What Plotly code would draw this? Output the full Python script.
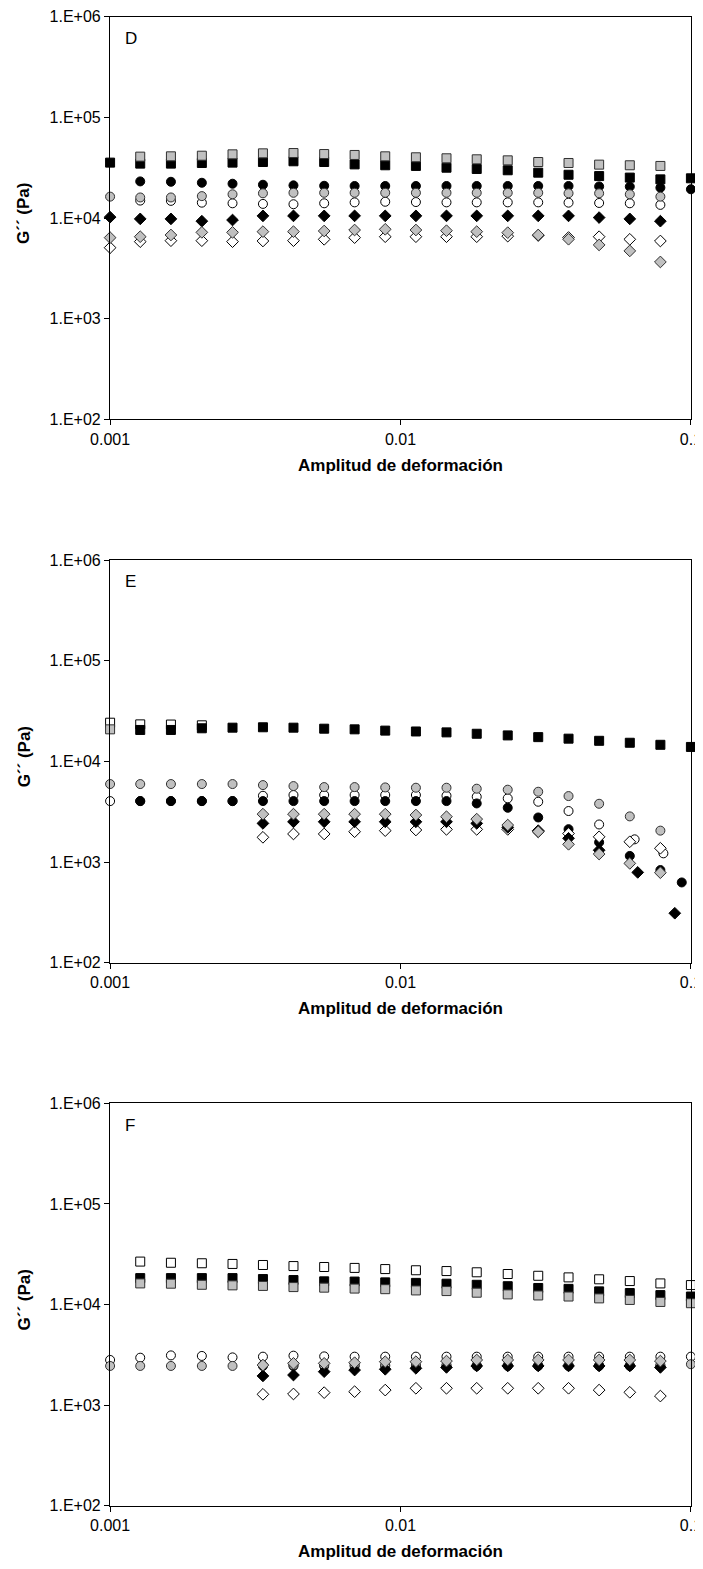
import plotly.graph_objects as go

# ---------------- data ----------------
strain = [0.001, 0.00127, 0.00162, 0.00207, 0.00264, 0.00336, 0.00428, 0.00546, 0.00695, 0.00886,
          0.0113, 0.0144, 0.0183, 0.0234, 0.0298, 0.0379, 0.0483, 0.0616, 0.0785, 0.1]
N = None

# Panel D
d_sq_black = [35500, 34700, 34700, 35200, 35500, 36000, 36600, 36000, 34100, 33400,
              32900, 31600, 30700, 29800, 28200, 26900, 26100, 25200, 24200, 24800]
d_sq_gray = [N, 40700, 41000, 41600, 42900, 43900, 44200, 43200, 42300, 41000,
             40100, 39200, 38300, 37400, 36000, 35200, 33900, 33400, 32900, N]
d_ci_white = [N, 14900, 14800, 14200, 14000, 13800, 13700, 14000, 14300, 14500,
              14400, 14300, 14300, 14300, 14300, 14200, 14100, 14000, 13500, N]
d_ci_black = [N, 23100, 22900, 22400, 21900, 21400, 21100, 20900, 20800, 20800,
              20800, 20800, 20800, 20800, 20800, 20800, 20600, 20500, 20000, 19300]
d_ci_gray = [16300, 16000, 16000, 16500, 17200, 17600, 17800, 17800, 17800, 17800,
             17800, 17800, 17800, 17800, 17800, 17600, 17600, 17200, 16300, N]
d_di_white = [5070, 5820, 5950, 5950, 5820, 5910, 5950, 6140, 6380, 6520,
              6520, 6520, 6520, 6600, 6700, 6400, 6520, 6140, 5910, N]
d_di_black = [10200, 9800, 9800, 9300, 9550, 10500, 10500, 10500, 10500, 10500,
              10500, 10500, 10500, 10500, 10500, 10500, 10100, 9800, 9300, N]
d_di_gray = [6380, 6520, 6780, 7200, 7200, 7320, 7320, 7430, 7600, 7720,
             7600, 7480, 7320, 7150, 6780, 6150, 5400, 4710, 3660, N]

# Panel E
e_sq_white = [24200, 23300, 23200, 22800, N, N, N, N, N, N, N, N, N, N, N, N, N, N, N, N]
e_sq_black = [N, 20500, 20500, 21300, 21600, 21800, 21600, 21100, 20800, 20200,
              19800, 19400, 18800, 18100, 17400, 16800, 16000, 15300, 14600, 13900]
e_sq_gray = [20800, N, N, N, N, N, N, N, N, N, N, N, N, N, N, N, N, N, N, N]
e_ci_white_x = [0.001, 0.00127, 0.00162, 0.00207, 0.00264, 0.00336, 0.00428, 0.00546, 0.00695, 0.00886,
                0.0113, 0.0144, 0.0183, 0.0234, 0.0298, 0.0379, 0.0483, 0.064, 0.0804]
e_ci_white = [4030, 4030, 4030, 4030, 4030, 4550, 4630, 4630, 4630, 4630,
              4630, 4550, 4450, 4290, 3970, 3210, 2360, 1680, 1220]
e_ci_black_x = [0.00127, 0.00162, 0.00207, 0.00264, 0.00336, 0.00428, 0.00546, 0.00695, 0.00886,
                0.0113, 0.0144, 0.0183, 0.0234, 0.0298, 0.0379, 0.0483, 0.0616, 0.0785, 0.093]
e_ci_black = [4030, 4030, 4030, 4030, 4030, 4030, 4030, 4030, 4030,
              4030, 4030, 3820, 3460, 2770, 2120, 1570, 1150, 832, 627]
e_ci_gray = [5950, 5950, 5950, 5950, 5950, 5810, 5680, 5550, 5550, 5510,
             5470, 5470, 5350, 5230, 4990, 4520, 3790, 2840, 2050, N]
e_di_white = [N, N, N, N, N, 1760, 1900, 1900, 2000, 2050,
              2080, 2110, 2110, 2110, 2000, 1920, 1780, 1590, 1370, N]
e_di_black_x = [0.00336, 0.00428, 0.00546, 0.00695, 0.00886, 0.0113, 0.0144, 0.0183, 0.0234,
                0.0298, 0.0379, 0.0483, 0.0656, 0.088]
e_di_black = [2420, 2510, 2510, 2510, 2510, 2510, 2510, 2420, 2210,
              2050, 1720, 1310, 789, 310]
e_di_gray = [N, N, N, N, N, 2990, 2990, 2990, 2990, 2990,
             2930, 2820, 2670, 2330, 2000, 1500, 1200, 969, 783, N]

# Panel F
f_sq_white = [N, 26700, 26000, 25700, 25300, 24700, 24100, 23600, 23100, 22500,
              21900, 21500, 20900, 20100, 19300, 18600, 17800, 17100, 16200, 15600]
f_sq_black = [N, 18300, 18300, 18300, 18300, 17900, 17500, 17000, 16900, 16600,
              16400, 16100, 15700, 15200, 14600, 14300, 13500, 13000, 12400, 12000]
f_sq_gray = [N, 16200, 16100, 15700, 15500, 15300, 14900, 14700, 14400, 14200,
             13800, 13600, 13100, 12600, 12300, 12000, 11500, 11100, 10600, 10300]
f_ci_white = [2810, 2960, 3120, 3080, 2980, 3030, 3100, 3050, 3030, 3030,
              3030, 3030, 3030, 3030, 3030, 3030, 3030, 3030, 3030, 3030]
f_ci_black = [N, N, N, N, N, 2450, 2450, 2450, 2450, 2450,
              2450, 2450, 2450, 2450, 2450, 2450, 2450, 2450, 2450, N]
f_ci_gray = [2450, 2450, 2450, 2450, 2450, 2500, 2500, 2500, 2500, 2500,
             2500, 2500, 2500, 2500, 2500, 2500, 2500, 2500, 2500, 2550]
f_di_white = [N, N, N, N, N, 1280, 1290, 1330, 1360, 1410,
              1470, 1470, 1470, 1470, 1470, 1470, 1410, 1340, 1230, N]
f_di_black = [N, N, N, N, N, 1950, 1990, 2150, 2230, 2270,
              2320, 2370, 2450, 2450, 2450, 2450, 2450, 2450, 2370, N]
f_di_gray = [N, N, N, N, N, 2500, 2600, 2600, 2640, 2700,
             2700, 2740, 2810, 2810, 2810, 2810, 2810, 2810, 2740, N]

panel_labels = ["D", "E", "F"]
y_tickvals = [1e2, 1e3, 1e4, 1e5, 1e6]
y_ticktext = ["1.E+02", "1.E+03", "1.E+04", "1.E+05", "1.E+06"]
x_tickvals = [0.001, 0.01, 0.1]
x_ticktext = ["0.001", "0.01", "0.1"]

# ---------------- styling ----------------
OFF = 8  # page body margin
W, H = 703 - OFF, 1569 - 2 * OFF
FONT = "Liberation Sans, Arial, sans-serif"
GRAY = "#C0C0C0"
styles = {
    "white": dict(color="white", line=dict(color="black", width=1)),
    "black": dict(color="black", line=dict(color="black", width=1)),
    "gray": dict(color=GRAY, line=dict(color="#303030", width=1)),
}
sizes = {"square": 9, "circle": 9, "diamond": 9}

fig = go.Figure()

def add(x, y, sym, col, idx):
    ax = "" if idx == 1 else str(idx)
    m = dict(symbol=sym, size=sizes[sym], **styles[col])
    fig.add_trace(go.Scatter(x=x, y=y, mode="markers", marker=m, showlegend=False,
                             xaxis="x" + ax, yaxis="y" + ax, cliponaxis=False))

# D
add(strain, d_sq_black, "square", "black", 1)
add(strain, d_sq_gray, "square", "gray", 1)
add(strain, d_ci_white, "circle", "white", 1)
add(strain, d_ci_black, "circle", "black", 1)
add(strain, d_ci_gray, "circle", "gray", 1)
add(strain, d_di_white, "diamond", "white", 1)
add(strain, d_di_black, "diamond", "black", 1)
add(strain, d_di_gray, "diamond", "gray", 1)
# E
add(strain, e_sq_white, "square", "white", 2)
add(strain, e_sq_gray, "square", "gray", 2)
add(strain, e_sq_black, "square", "black", 2)
add(e_ci_white_x, e_ci_white, "circle", "white", 2)
add(e_ci_black_x, e_ci_black, "circle", "black", 2)
add(strain, e_ci_gray, "circle", "gray", 2)
add(strain, e_di_white, "diamond", "white", 2)
add(e_di_black_x, e_di_black, "diamond", "black", 2)
add(strain, e_di_gray, "diamond", "gray", 2)
# F
add(strain, f_sq_white, "square", "white", 3)
add(strain, f_sq_black, "square", "black", 3)
add(strain, f_sq_gray, "square", "gray", 3)
add(strain, f_ci_white, "circle", "white", 3)
add(strain, f_ci_black, "circle", "black", 3)
add(strain, f_ci_gray, "circle", "gray", 3)
add(strain, f_di_white, "diamond", "white", 3)
add(strain, f_di_black, "diamond", "black", 3)
add(strain, f_di_gray, "diamond", "gray", 3)

# target screen positions (reference pixels), converted to figure pixels
x0, x1 = 110 - OFF, 691 - OFF
panels_px = [(16.7 - OFF, 419.3 - OFF), (560.0 - OFF, 962.7 - OFF), (1103.3 - OFF, 1505.7 - OFF)]

layout = dict(width=W, height=H, margin=dict(l=0, r=0, t=0, b=0, autoexpand=False),
              paper_bgcolor="white", plot_bgcolor="white",
              font=dict(family=FONT, size=16, color="black"))
annotations = []
for i, (top, bot) in enumerate(panels_px):
    idx = "" if i == 0 else str(i + 1)
    ydom = [1 - bot / H, 1 - top / H]
    xdom = [x0 / W, x1 / W]
    layout["xaxis" + idx] = dict(type="log", range=[-3.0003, -0.9997], domain=xdom, anchor="y" + idx,
                                 tickvals=x_tickvals, ticktext=x_ticktext, ticks="outside",
                                 ticklen=5, tickcolor="black", showgrid=False, zeroline=False,
                                 showline=True, linecolor="black", linewidth=1.2, mirror=True,
                                 tickfont=dict(size=16), automargin=False,
                                 ticklabeloverflow="allow")
    layout["yaxis" + idx] = dict(type="log", range=[2, 6], domain=ydom, anchor="x" + idx,
                                 tickvals=y_tickvals, ticktext=y_ticktext, ticks="outside",
                                 ticklen=5, tickcolor="black", showgrid=False, zeroline=False,
                                 showline=True, linecolor="black", linewidth=1.2, mirror=True,
                                 tickfont=dict(size=16), automargin=False,
                                 ticklabeloverflow="allow")
    annotations.append(dict(text="<b>Amplitud de deformación</b>", xref="paper", yref="paper",
                            x=(x0 + x1) / 2 / W, y=1 - (bot + 46) / H, showarrow=False,
                            font=dict(size=17), xanchor="center", yanchor="middle"))
    annotations.append(dict(text="<b>G´´ (Pa)</b>", xref="paper", yref="paper",
                            x=(24 - OFF) / W, y=1 - ((top + bot) / 2 - 4) / H, showarrow=False,
                            textangle=-90, font=dict(size=17), xanchor="center", yanchor="middle"))
    annotations.append(dict(text=panel_labels[i], xref="paper", yref="paper",
                            x=(123 - OFF) / W, y=1 - (top + 22) / H, showarrow=False,
                            font=dict(size=17), xanchor="left", yanchor="middle"))
layout["annotations"] = annotations
fig.update_layout(**layout)
fig.write_html("out.html")
